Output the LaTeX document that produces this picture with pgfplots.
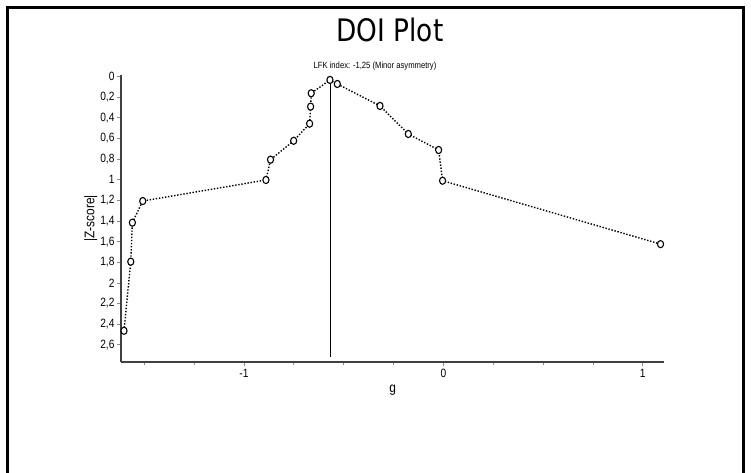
\documentclass[border=0pt]{standalone}
\usepackage{pgfplots}
\pgfplotsset{compat=1.18}
\usepackage{fontspec}
\setmainfont{Liberation Sans}
\newfontfamily\narrowfont[FakeStretch=0.85]{Liberation Sans}
\newfontfamily\titlefont[FakeStretch=0.85]{DejaVu Sans}
\begin{document}
\begin{tikzpicture}[x=1pt,y=1pt]
\useasboundingbox (0,0) rectangle (751,473);
\draw[line width=2.5pt] (7.5,0) -- (7.5,465.5) -- (743.5,465.5) -- (743.5,0);
\node[font=\titlefont\fontsize{31}{33}\selectfont] at (390,443) {DOI Plot};
\node[font=\narrowfont\fontsize{9}{10}\selectfont] at (375,407.3) {LFK index: -1,25 (Minor asymmetry)};
\begin{axis}[
  at={(121pt,111.3pt)}, anchor=south west,
  scale only axis, width=543.3pt, height=286.7pt,
  xmin=-1.617, xmax=1.108, ymin=-0.016, ymax=2.764,
  y dir=reverse,
  axis x line=bottom, axis y line=left,
  axis line style={-, line width=1.6pt, draw=black!75},
  xtick={-1,0,1},
  minor xtick={-1.5,-1.25,-0.75,-0.5,-0.25,0.25,0.5,0.75},
  ytick={0,0.2,0.4,0.6,0.8,1,1.2,1.4,1.6,1.8,2,2.2,2.4,2.6},
  tick align=outside,
  major tick length=4pt, minor tick length=3pt,
  tick style={draw=black!45, line width=0.8pt},
  ticklabel style={font=\narrowfont\fontsize{12}{13}\selectfont},
  yticklabel style={xshift=1pt},
  /pgf/number format/use comma,
  /pgf/number format/assume math mode=true,
  xlabel={g}, ylabel={|Z-score|},
  label style={font=\narrowfont\fontsize{14}{15}\selectfont},
  ylabel style={yshift=-4pt},
  clip=false,
]
\addplot[black, line width=0.8pt] coordinates {(-0.567,0.01) (-0.567,2.716)};
\addplot[black, line width=1.4pt, dash pattern=on 1.4pt off 1.7pt,
  mark=*, mark size=3.6pt,
  mark options={solid, draw=black, fill=white, line width=1.1pt, xscale=0.85}]
  table {
  g      z
  -1.602 2.464
  -1.568 1.794
  -1.560 1.416
  -1.508 1.206
  -0.890 1.002
  -0.867 0.805
  -0.751 0.622
  -0.671 0.456
  -0.666 0.291
  -0.663 0.161
  -0.569 0.032
  -0.532 0.071
  -0.318 0.284
  -0.176 0.556
  -0.024 0.711
  -0.004 1.009
   1.089 1.624
  };
\end{axis}
\end{tikzpicture}
\end{document}
